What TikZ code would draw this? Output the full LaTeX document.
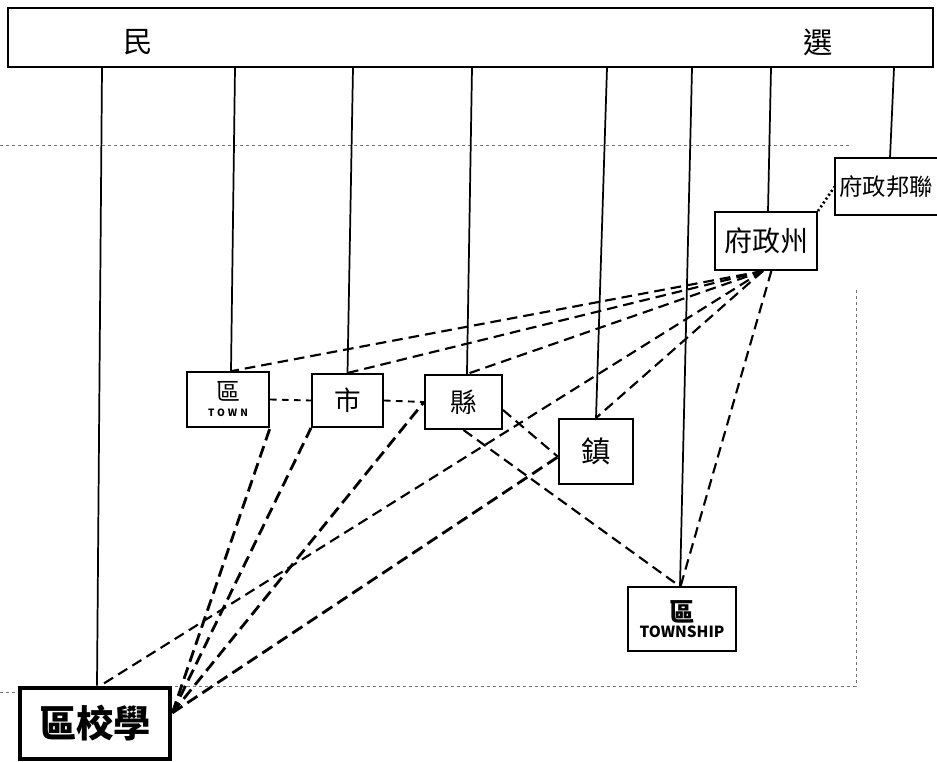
\documentclass[tikz,border=0pt]{standalone}
\usepackage{fontspec}
\newfontfamily\cjk{Noto Sans CJK TC}
\begin{document}
\begin{tikzpicture}[x=0.75pt,y=-0.75pt,
  box/.style={draw,line width=1.5pt,inner sep=0pt,align=center},
  vline/.style={line width=1.3pt},
  fan/.style={line width=1.6pt,dash pattern=on 8pt off 4.5pt},
  sch/.style={line width=2.1pt,dash pattern=on 9pt off 4.5pt},
  link/.style={line width=1.4pt,dash pattern=on 5pt off 4pt},
  dotl/.style={line width=2pt,dash pattern=on 1.5pt off 2pt},
  frame/.style={black!55,line width=0.5pt,dash pattern=on 2pt off 2.5pt}]
\useasboundingbox (0,0) rectangle (937,762);

% faint frame of the sheet
\draw[frame] (0,145) -- (850,145);
\draw[frame] (856,290) -- (856,686) -- (170,686);
\draw[frame] (0,692) -- (20,692);

% top bar
\node[box,line width=1.2pt,minimum width=693.75pt,minimum height=44.25pt] (bar) at (470.5,37.5) {};
\node[font={\cjk\fontsize{22}{22}\selectfont}] (min) at (138,42) {民};
\node[font={\cjk\fontsize{22}{22}\selectfont}] (xuan) at (818,42) {選};

% boxes
\node[inner sep=0pt,minimum width=76.5pt,minimum height=42.75pt,font={\cjk\fontsize{17.5}{18}\selectfont}] (fed) at (886,186.5) {府政邦聯};
\draw[line width=1.5pt] (fed.north east) -- (fed.north west) -- (fed.south west) -- (fed.south east);
\node[box,minimum width=76.5pt,minimum height=43.5pt,font={\cjk\fontsize{21}{21}\selectfont}] (fz) at (766,241) {府政州};
\node[box,minimum width=61.5pt,minimum height=41.25pt] (town) at (228,399.5)
  {{\cjk\fontsize{18}{18}\selectfont 區}\\[0pt]{\cjk\bfseries\fontsize{7.5}{7.5}\selectfont\addfontfeature{LetterSpace=30}TOWN}};
\node[box,minimum width=53.25pt,minimum height=39.75pt,font={\cjk\fontsize{20}{20}\selectfont}] (shi) at (347.5,400.5) {市};
\node[box,minimum width=57.75pt,minimum height=40.5pt,font={\cjk\fontsize{20}{20}\selectfont}] (xian) at (463.5,402) {縣};
\node[box,minimum width=55.5pt,minimum height=48.75pt,font={\cjk\fontsize{22}{22}\selectfont}] (zhen) at (596,451.5) {鎮};
\node[box,minimum width=81pt,minimum height=48pt] (twp) at (682,619)
  {{\cjk\bfseries\fontsize{19}{19}\selectfont 區}\\[0pt]{\cjk\bfseries\fontsize{11.5}{11.5}\selectfont TOWNSHIP}};
\node[box,line width=3.5pt,minimum width=112.5pt,minimum height=53.25pt,font={\cjk\bfseries\fontsize{28}{28}\selectfont}] (school) at (95,723.5) {區校學};

% tops of the vertical lines on the bar
\coordinate (b1) at (102,0);
\coordinate (b2) at (235,0);
\coordinate (b3) at (353,0);
\coordinate (b4) at (472,0);
\coordinate (b5) at (607,0);
\coordinate (b6) at (692,0);
\coordinate (b7) at (771,0);
\coordinate (b8) at (894,0);

\draw[vline] (bar.south -| b1) -- ([xshift=1.5pt]school.north);
\draw[vline] (bar.south -| b2) -- ([xshift=2.25pt]town.north);
\draw[vline] (bar.south -| b3) -- (shi.north);
\draw[vline] (bar.south -| b4) -- ([xshift=2.6pt]xian.north);
\draw[vline] (bar.south -| b5) -- (zhen.north);
\draw[vline] (bar.south -| b6) -- ([xshift=-1.5pt]twp.north);
\draw[vline] (bar.south -| b7) -- ([xshift=1.5pt]fz.north);
\draw[vline] (bar.south -| b8) -- ([xshift=3pt]fed.north);

% fan from the state government
\coordinate (fzA) at ([xshift=-2.25pt]fz.south);
\draw[fan] (fzA) -- ([xshift=3pt]town.north);
\draw[fan] (fzA) -- (shi.north);
\draw[fan] (fzA) -- ([xshift=2.6pt]xian.north);
\draw[fan] (fzA) -- ([xshift=4pt]school.north);
\draw[fan] (fzA) -- (zhen.north);
\draw[fan] ([xshift=4pt]fz.south) -- ([xshift=-1pt]twp.north);
\draw[dotl] (fz.north east) -- (fed.west);

% fan from the school district
\coordinate (schR) at ([yshift=8pt]school.east);
\draw[sch] (schR) -- (town.south east);
\draw[sch] (schR) -- (shi.south west);
\draw[sch] (schR) -- (xian.west);
\draw[sch] (schR) -- ([yshift=-4pt]zhen.west);

% other links
\draw[link] (town.east) -- (shi.west);
\draw[link] (shi.east) -- (xian.west);
\draw[fan] ([yshift=-6pt]xian.east) -- ([yshift=-4pt]zhen.west);
\draw[fan] (xian.south) -- ([xshift=-2pt]twp.north);
\end{tikzpicture}
\end{document}
